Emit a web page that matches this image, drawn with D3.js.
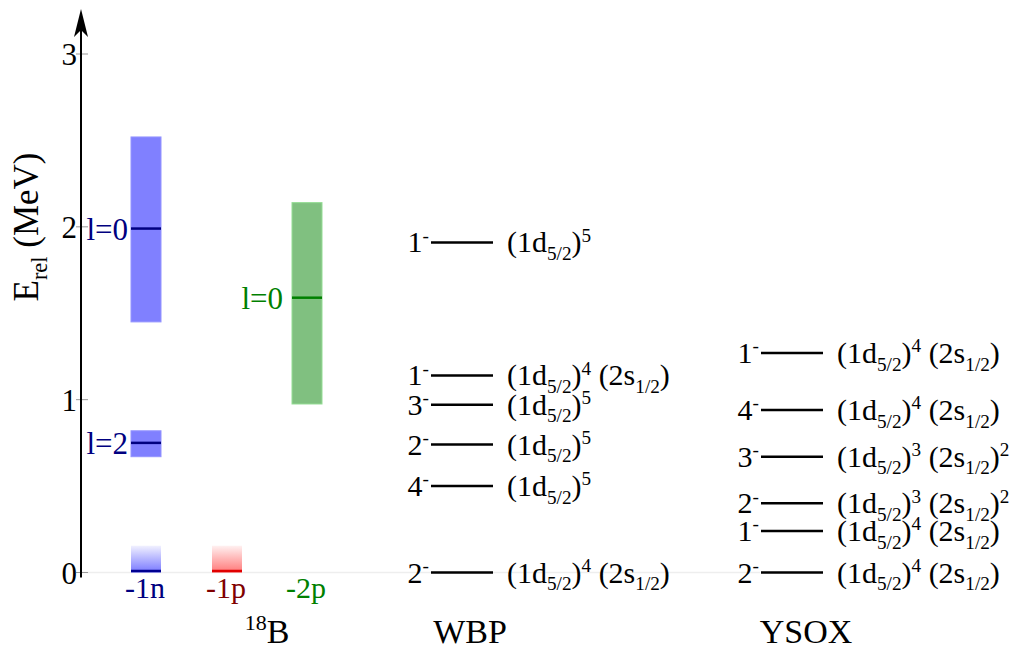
<!DOCTYPE html>
<html><head><meta charset="utf-8">
<script src="https://cdn.jsdelivr.net/npm/d3@7"></script>
<style>
body{margin:0;background:#fff}
svg{display:block}
</style>
</head><body>
<svg id="c" width="1016" height="651" font-family="'Liberation Serif', 'Times New Roman', serif"></svg>
<script>
// ---------- data ----------
const yTicks = [0, 1, 2, 3];
const columns = ["-1n", "-1p", "-2p", "WBP", "YSOX"];
const channelNames = ["-1n", "-1p", "-2p"];
const channelColors = ["#000080", "#800000", "#008000"];

const resColumn = ["-1n", "-1n", "-2p"];
const resLabel = ["l=0", "l=2", "l=0"];
const resCentroid = [1.99, 0.75, 1.59];
const resLow = [1.45, 0.67, 0.975];
const resHigh = [2.52, 0.82, 2.14];
const resFill = ["#8080ff", "#8080ff", "#80c080"];
const resLine = ["#000080", "#000080", "#008000"];

const thrColumn = ["-1n", "-1p"];
const thrEnergy = [0, 0];
const thrFade = [0.155, 0.155];
const thrColor = ["#7070ff", "#ff7070"];
const thrLine = ["#000090", "#e00000"];

const wbpSpin = ["1", "1", "3", "2", "4", "2"];
const wbpEnergy = [1.91, 1.14, 0.97, 0.74, 0.50, 0.00];
const wbpConfig = [
  "(1d_{5/2})^{5}",
  "(1d_{5/2})^{4} (2s_{1/2})",
  "(1d_{5/2})^{5}",
  "(1d_{5/2})^{5}",
  "(1d_{5/2})^{5}",
  "(1d_{5/2})^{4} (2s_{1/2})"
];
const ysoxSpin = ["1", "4", "3", "2", "1", "2"];
const ysoxEnergy = [1.27, 0.94, 0.67, 0.40, 0.24, 0.00];
const ysoxConfig = [
  "(1d_{5/2})^{4} (2s_{1/2})",
  "(1d_{5/2})^{4} (2s_{1/2})",
  "(1d_{5/2})^{3} (2s_{1/2})^{2}",
  "(1d_{5/2})^{3} (2s_{1/2})^{2}",
  "(1d_{5/2})^{4} (2s_{1/2})",
  "(1d_{5/2})^{4} (2s_{1/2})"
];

// ---------- scales ----------
const svg = d3.select("#c");
const y = d3.scaleLinear().domain([0, 3]).range([572.5, 54]);
const x = d3.scaleOrdinal().domain(columns).range([146, 227, 307, 462, 792]);
const axisX = 81;
const barW = 30, levelW = 62;

// rich text helper: _{..} subscript, ^{..} superscript
function rich(sel, str, size) {
  const re = /([_^])\{([^}]*)\}|([^_^]+)/g;
  let m, cur = 0;
  while ((m = re.exec(str)) !== null) {
    let target = 0, fs = size, txt;
    if (m[1] === "_") { target = size * 0.25; fs = size * 0.64; txt = m[2]; }
    else if (m[1] === "^") { target = -size * 0.36; fs = size * 0.64; txt = m[2]; }
    else { txt = m[3]; }
    sel.append("tspan").attr("dy", target - cur).attr("font-size", fs).text(txt);
    cur = target;
  }
}

// ---------- baseline ----------
svg.append("line").attr("x1", axisX).attr("x2", 760)
  .attr("y1", y(0)).attr("y2", y(0)).attr("stroke", "#eeeeee").attr("stroke-width", 1.5);

// ---------- y axis ----------
const ya = svg.append("g");
ya.selectAll("line.tick").data(yTicks).join("line").attr("class", "tick")
  .attr("x1", axisX - 5).attr("x2", axisX + 7)
  .attr("y1", d => y(d)).attr("y2", d => y(d))
  .attr("stroke", "#999").attr("stroke-width", 1);
ya.selectAll("text").data(yTicks).join("text")
  .attr("x", axisX - 4).attr("y", d => y(d) + 11)
  .attr("text-anchor", "end").attr("font-size", 31).text(d => d);
ya.append("line").attr("x1", axisX).attr("x2", axisX)
  .attr("y1", y(0) + 5).attr("y2", 28).attr("stroke", "#000").attr("stroke-width", 2);
ya.append("path").attr("d", `M${axisX},9 L${axisX + 7},37 L${axisX},30 L${axisX - 7},37 Z`).attr("fill", "#000");

const yt = svg.append("text").attr("transform", "translate(38,227) rotate(-90)")
  .attr("text-anchor", "middle").attr("font-size", 35);
rich(yt, "E_{rel}", 35);
yt.append("tspan").attr("dy", -35 * 0.25).text(" (MeV)");

// ---------- thresholds ----------
const defs = svg.append("defs");
thrColumn.forEach((c, i) => {
  const g = defs.append("linearGradient").attr("id", "thr" + i)
    .attr("x1", 0).attr("y1", 1).attr("x2", 0).attr("y2", 0);
  g.append("stop").attr("offset", "0%").attr("stop-color", thrColor[i]).attr("stop-opacity", 0.95);
  g.append("stop").attr("offset", "100%").attr("stop-color", thrColor[i]).attr("stop-opacity", 0.1);
});
svg.selectAll("rect.thr").data(thrColumn).join("rect").attr("class", "thr")
  .attr("x", d => x(d) - barW / 2).attr("width", barW)
  .attr("y", (d, i) => y(thrEnergy[i] + thrFade[i]))
  .attr("height", (d, i) => y(thrEnergy[i]) - y(thrEnergy[i] + thrFade[i]))
  .attr("fill", (d, i) => `url(#thr${i})`);
svg.selectAll("line.thr").data(thrColumn).join("line").attr("class", "thr")
  .attr("x1", d => x(d) - barW / 2).attr("x2", d => x(d) + barW / 2)
  .attr("y1", (d, i) => y(thrEnergy[i]) - 1.5).attr("y2", (d, i) => y(thrEnergy[i]) - 1.5)
  .attr("stroke", (d, i) => thrLine[i]).attr("stroke-width", 2.5);

// ---------- resonances ----------
svg.selectAll("rect.res").data(resColumn).join("rect").attr("class", "res")
  .attr("x", d => x(d) - barW / 2).attr("width", barW)
  .attr("y", (d, i) => y(resHigh[i]))
  .attr("height", (d, i) => y(resLow[i]) - y(resHigh[i]))
  .attr("fill", (d, i) => resFill[i])
  .attr("stroke", (d, i) => d3.color(resFill[i]).brighter(0.4)).attr("stroke-width", 1);
svg.selectAll("line.res").data(resColumn).join("line").attr("class", "res")
  .attr("x1", d => x(d) - barW / 2).attr("x2", d => x(d) + barW / 2)
  .attr("y1", (d, i) => y(resCentroid[i])).attr("y2", (d, i) => y(resCentroid[i]))
  .attr("stroke", (d, i) => resLine[i]).attr("stroke-width", 2.5);
svg.selectAll("text.res").data(resColumn).join("text").attr("class", "res")
  .attr("x", d => x(d) - barW / 2 - (d === "-2p" ? 9 : 3))
  .attr("y", (d, i) => y(resCentroid[i]) + 11)
  .attr("text-anchor", "end").attr("font-size", 31)
  .attr("fill", (d, i) => resLine[i]).text((d, i) => resLabel[i]);

// ---------- channel labels ----------
svg.selectAll("text.ch").data(channelNames).join("text").attr("class", "ch")
  .attr("x", d => x(d) - 1).attr("y", 598).attr("text-anchor", "middle")
  .attr("font-size", 30).attr("fill", (d, i) => channelColors[i]).text(d => d);

const bl = svg.append("text").attr("x", x("-1p") + 40).attr("y", 643)
  .attr("text-anchor", "middle").attr("font-size", 34);
bl.append("tspan").attr("font-size", 22).attr("dy", -13).text("18");
bl.append("tspan").attr("dy", 13).text("B");

// ---------- level schemes ----------
function levels(col, spins, energies, configs, titleShift) {
  const cx = x(col);
  const g = svg.append("g");
  g.selectAll("line").data(energies).join("line")
    .attr("x1", cx - levelW / 2).attr("x2", cx + levelW / 2)
    .attr("y1", d => y(d)).attr("y2", d => y(d))
    .attr("stroke", "#000").attr("stroke-width", 2.5);
  g.selectAll("text.spin").data(energies).join("text").attr("class", "spin")
    .attr("x", cx - levelW / 2 - 2).attr("y", d => y(d) + 10)
    .attr("text-anchor", "end").attr("font-size", 30)
    .each(function (d, i) { rich(d3.select(this), spins[i] + "^{-}", 30); });
  g.selectAll("text.cfg").data(energies).join("text").attr("class", "cfg")
    .attr("x", cx + levelW / 2 + 14).attr("y", d => y(d) + 10)
    .attr("font-size", 30)
    .each(function (d, i) { rich(d3.select(this), configs[i], 30); });
  svg.append("text").attr("x", cx + titleShift).attr("y", 643).attr("text-anchor", "middle")
    .attr("font-size", 34).text(col);
}
levels("WBP", wbpSpin, wbpEnergy, wbpConfig, 8);
levels("YSOX", ysoxSpin, ysoxEnergy, ysoxConfig, 14);
</script>
</body></html>
